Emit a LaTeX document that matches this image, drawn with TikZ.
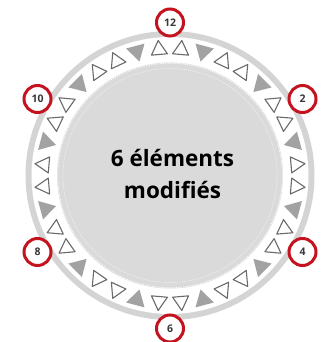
\documentclass[tikz,border=0pt]{standalone}
\usepackage{fontspec}
\setmainfont{Open Sans}
\usetikzlibrary{calc}
\definecolor{ringgray}{HTML}{D4D4D4}
\definecolor{diskgray}{HTML}{DADADA}
\definecolor{trigray}{HTML}{A2A2A2}
\definecolor{edgegray}{HTML}{6A6A6A}
\definecolor{dialred}{HTML}{C4121F}
\definecolor{labeltext}{HTML}{383838}
\tikzset{
  labelcirc/.style={circle, draw=dialred, line width=3pt, fill=white, minimum size=27pt, inner sep=0pt,
    text=labeltext, font=\fontsize{10.5}{10.5}\selectfont\bfseries},
  opentri/.style={draw=edgegray, line width=1.1pt, line join=round, fill=white},
  filltri/.style={fill=trigray},
  maintext/.style={anchor=base, font=\fontsize{22.5}{29}\selectfont\bfseries, text=black, inner sep=0pt}
}
\begin{document}
\begin{tikzpicture}[x=1pt,y=1pt]
\useasboundingbox (0,0) rectangle (327,342);
\coordinate (c) at (170,166.5);
% outer ring, white band, inner disk
\fill[ringgray] (c) circle (144.5);
\fill[white] (c) circle (138.5);
\fill[diskgray] (c) circle (113);
\draw[white, line width=0.8pt, dash pattern=on 1.2pt off 1.2pt] (c) circle (112.3);
\draw[gray!18, line width=0.6pt] (c) circle (107);
% triangles
\foreach \k in {0,...,11} {
  \foreach \d in {-5,5} {
    \pgfmathsetmacro\a{30*\k+\d}
    \begin{scope}[shift={(c)}, rotate=\a]
      \draw[opentri] (135.5,0) -- (121.5,8) -- (121.5,-8) -- cycle;
    \end{scope}
  }
  \pgfmathsetmacro\b{30*\k+15}
  \begin{scope}[shift={(c)}, rotate=\b]
    \fill[filltri] (118,0) -- (134,9.5) -- (134,-9.5) -- cycle;
  \end{scope}
}
% clock labels
\node[labelcirc] (l12) at ([shift={(90:153)}]c) {12};
\node[labelcirc] (l2) at ([shift={(30:153)}]c) {2};
\node[labelcirc] (l4) at ([shift={(-30:153)}]c) {4};
\node[labelcirc] (l6) at ([shift={(-90:153)}]c) {6};
\node[labelcirc] (l8) at ([shift={(-150:153)}]c) {8};
\node[labelcirc] (l10) at ([shift={(150:153)}]c) {10};
% central text
\node[maintext] (t1) at (172.5,175) {6 éléments};
\node[maintext] (t2) at (172.5,143.5) {modifiés};
\end{tikzpicture}
\end{document}
